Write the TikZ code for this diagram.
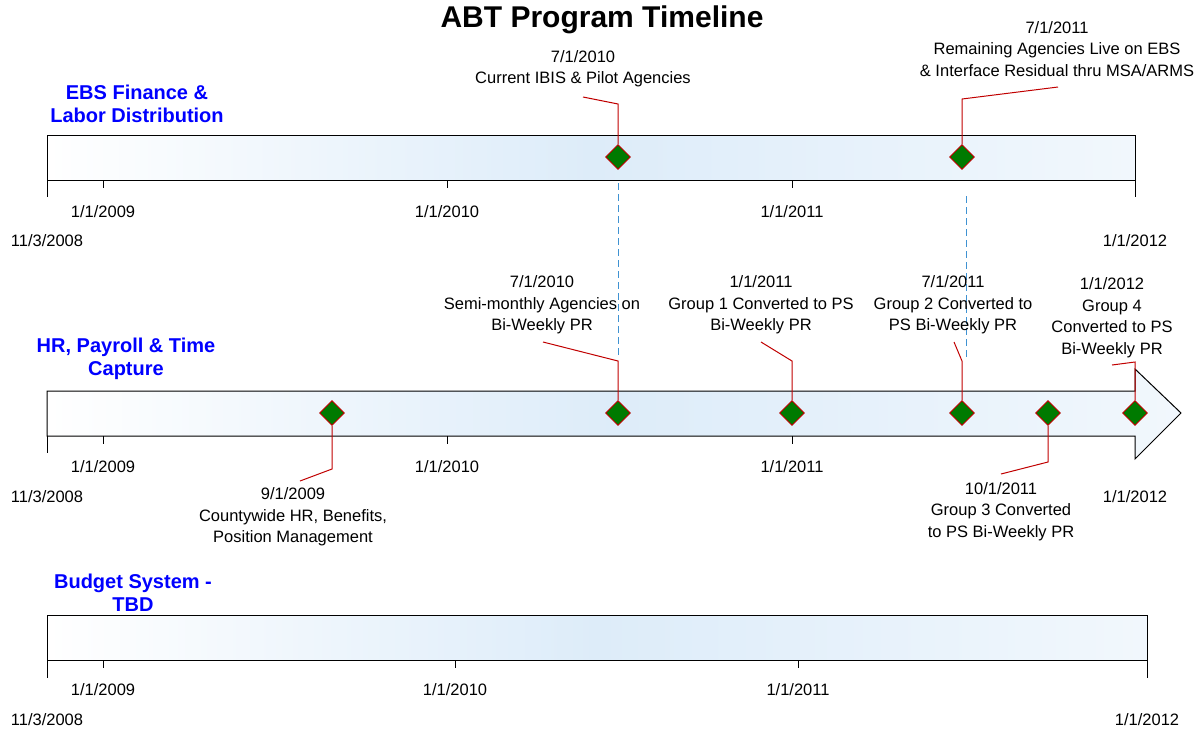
\documentclass[tikz,border=0pt]{standalone}
\usepackage{fontspec}
\setmainfont{Liberation Sans}
\usetikzlibrary{shapes.geometric}
\definecolor{barblue}{HTML}{DDECF9}
\definecolor{leadred}{HTML}{C00000}
\definecolor{dashblue}{HTML}{3F92D2}
\definecolor{diagreen}{HTML}{007A00}
\begin{document}
\begin{tikzpicture}[x=1pt,y=-1pt,
  title/.style={font=\bfseries\fontsize{30}{36}\selectfont, inner sep=0},
  heading/.style={font=\bfseries\fontsize{20}{23.5}\selectfont, text=blue, align=center, inner sep=0},
  lbl/.style={font=\fontsize{16.5}{21.5}\selectfont, align=center, inner sep=0},
  datelbl/.style={font=\fontsize{16.5}{20}\selectfont, inner sep=0},
  milestone/.style={diamond, fill=diagreen, draw=leadred, line width=0.9pt, minimum size=25pt, inner sep=0},
  leader/.style={draw=leadred, line width=1pt},
  link/.style={draw=dashblue, line width=1pt, dash pattern=on 7pt off 4pt},
  bar/.style={draw=black, line width=1pt, left color=white, right color=barblue!40!white, middle color=barblue},
  tick/.style={draw=black, line width=1pt}
]
\useasboundingbox (0,0) rectangle (1204,732);

% title
\node[title] (title) at (602,20) {ABT Program Timeline};

% headings
\node[heading] (h1) at (137,104) {EBS Finance \&\\Labor Distribution};
\node[heading] (h2) at (126,359) {HR, Payroll \& Time\\Capture};
\node[heading] (h3) at (133,592.5) {Budget System -\\TBD};

% ===== Timeline 1 =====
\path[bar] (47,135) rectangle (1135,180);
\draw[tick] (47,180) -- (47,197);
\draw[tick] (1135,180) -- (1135,197);
\draw[tick] (103,180) -- (103,188);
\draw[tick] (447,180) -- (447,188);
\draw[tick] (792,180) -- (792,188);
\node[datelbl] (a1) at (103,212) {1/1/2009};
\node[datelbl] (a2) at (447,212) {1/1/2010};
\node[datelbl] (a3) at (792,212) {1/1/2011};
\node[datelbl] (a0) at (47,241) {11/3/2008};
\node[datelbl] (a4) at (1135,241) {1/1/2012};

% ===== Timeline 2 =====
\path[bar] (47,391) -- (1135,391) -- (1135,369) -- (1181,413) -- (1135,459) -- (1135,436) -- (47,436) -- cycle;
\draw[tick] (47,436) -- (47,453);
\draw[tick] (103,436) -- (103,444);
\draw[tick] (447,436) -- (447,444);
\draw[tick] (792,436) -- (792,444);
\node[datelbl] (b1) at (103,467) {1/1/2009};
\node[datelbl] (b2) at (447,467) {1/1/2010};
\node[datelbl] (b3) at (792,467) {1/1/2011};
\node[datelbl] (b0) at (47,497) {11/3/2008};
\node[datelbl] (b4) at (1135,497) {1/1/2012};

% ===== Timeline 3 =====
\path[bar] (47,615) rectangle (1147,660);
\draw[tick] (47,660) -- (47,678);
\draw[tick] (1147,660) -- (1147,678);
\draw[tick] (103,660) -- (103,668);
\draw[tick] (455,660) -- (455,668);
\draw[tick] (798,660) -- (798,668);
\node[datelbl] (c1) at (103,690) {1/1/2009};
\node[datelbl] (c2) at (455,690) {1/1/2010};
\node[datelbl] (c3) at (798,690) {1/1/2011};
\node[datelbl] (c0) at (47,720) {11/3/2008};
\node[datelbl] (c4) at (1147,720) {1/1/2012};

% dashed links
\coordinate (k1a) at (618,183);
\coordinate (k1b) at (618,355);
\coordinate (k2a) at (966,196);
\coordinate (k2b) at (966,358);
\draw[link] (k1a) -- (k1b);
\draw[link] (k2a) -- (k2b);

% milestones
\node[milestone] (m1) at (618,157) {};
\node[milestone] (m2) at (962,157) {};
\node[milestone] (n1) at (332,413) {};
\node[milestone] (n2) at (618,413) {};
\node[milestone] (n3) at (792,413) {};
\node[milestone] (n4) at (962,413) {};
\node[milestone] (n5) at (1048,413) {};
\node[milestone] (n6) at (1135,413) {};

% leader corners and ends
\coordinate (m1c) at (618,104); \coordinate (m1e) at (583,97);
\coordinate (m2c) at (962,99);  \coordinate (m2e) at (1058,87);
\coordinate (n1c) at (332,469); \coordinate (n1e) at (300,481);
\coordinate (n2c) at (618,361); \coordinate (n2e) at (543,342);
\coordinate (n3c) at (792,361); \coordinate (n3e) at (761,342);
\coordinate (n4c) at (962,361); \coordinate (n4e) at (954,342);
\coordinate (n5c) at (1048,462); \coordinate (n5e) at (1001,474);
\coordinate (n6c) at (1135,362); \coordinate (n6e) at (1112,365);

\draw[leader] (m1.north) -- (m1c) -- (m1e);
\draw[leader] (m2.north) -- (m2c) -- (m2e);
\draw[leader] (n1.south) -- (n1c) -- (n1e);
\draw[leader] (n2.north) -- (n2c) -- (n2e);
\draw[leader] (n3.north) -- (n3c) -- (n3e);
\draw[leader] (n4.north) -- (n4c) -- (n4e);
\draw[leader] (n5.south) -- (n5c) -- (n5e);
\draw[leader] (n6.north) -- (n6c) -- (n6e);

% milestone labels
\node[lbl] (t1) at (583,68.5) {7/1/2010\\Current IBIS \& Pilot Agencies};
\node[lbl] (t2) at (1057,49) {7/1/2011\\Remaining Agencies Live on EBS\\\& Interface Residual thru MSA/ARMS};
\node[lbl] (u1) at (293,517) {9/1/2009\\Countywide HR, Benefits,\\Position Management};
\node[lbl] (u2) at (542,305) {7/1/2010\\Semi-monthly Agencies on\\Bi-Weekly PR};
\node[lbl] (u3) at (761,305) {1/1/2011\\Group 1 Converted to PS\\Bi-Weekly PR};
\node[lbl] (u4) at (953,305) {7/1/2011\\Group 2 Converted to\\PS Bi-Weekly PR};
\node[lbl] (u5) at (1001,511.5) {10/1/2011\\Group 3 Converted\\to PS Bi-Weekly PR};
\node[lbl] (u6) at (1112,317.5) {1/1/2012\\Group 4\\Converted to PS\\Bi-Weekly PR};
\end{tikzpicture}
\end{document}
